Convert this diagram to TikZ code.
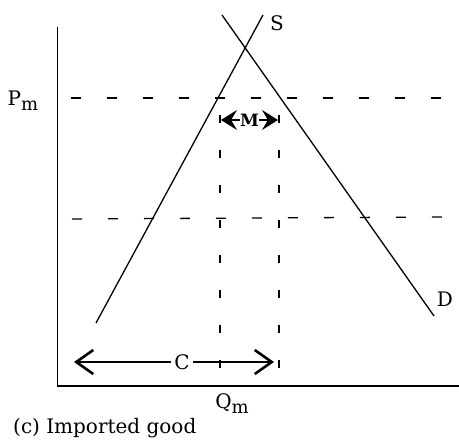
\documentclass[tikz,border=0pt]{standalone}
\usepackage{fontspec}
\setmainfont{DejaVu Serif}
\usetikzlibrary{arrows.meta}
\newcommand{\lowsub}[1]{\raisebox{-5pt}{\fontsize{18}{20}\selectfont #1}}
\begin{document}
\begin{tikzpicture}[x=1pt,y=-1pt,
  curve/.style={line width=1.3pt},
  axis/.style={line width=1.6pt},
  dashline/.style={line width=1.3pt, dash pattern=on 10pt off 26pt},
  vdash/.style={line width=1.3pt, dash pattern=on 8pt off 27pt},
  lbl/.style={font=\fontsize{20}{22}\selectfont, inner sep=1pt},
  marrow/.style={line width=1.2pt, -{Stealth[length=16pt,width=20pt,inset=6pt]}},
  carrow/.style={line width=1.2pt, -{Straight Barb[length=17pt,width=24pt,line width=2.6pt]}}]
\useasboundingbox (0,0) rectangle (459,443);
% axes
\coordinate (ytop) at (57.5,27);
\coordinate (O) at (57.5,386);
\coordinate (xend) at (459,386);
\draw[axis] (ytop) -- (O) -- (xend);
% supply and demand
\coordinate (S1) at (96,323);
\coordinate (S2) at (263,15);
\coordinate (D1) at (222,15);
\coordinate (D2) at (434,316);
\draw[curve] (S1) -- (S2);
\draw[curve] (D1) -- (D2);
\node[lbl] (S) at (277,23) {S};
\node[lbl] (D) at (445,299) {D};
% price lines
\coordinate (h1a) at (71,98);
\coordinate (h1b) at (443,98);
\coordinate (h2a) at (72,219);
\coordinate (h2b) at (443,217);
\draw[dashline] (h1a) -- (h1b);
\draw[dashline] (h2a) -- (h2b);
\node[lbl] (Pm) at (23,101) {P\lowsub{m}};
% vertical dashed lines
\coordinate (v1a) at (220,115);
\coordinate (v1b) at (220,373);
\coordinate (v2a) at (279,115);
\coordinate (v2b) at (279,373);
\draw[vdash] (v1a) -- (v1b);
\draw[vdash] (v2a) -- (v2b);
% M arrow
\node[lbl, inner sep=0pt, font=\fontsize{17}{19}\selectfont\bfseries] (M) at (249.5,120) {M};
\coordinate (ML) at (221,120);
\coordinate (MR) at (278,120);
\draw[marrow] (M.west) -- (ML);
\draw[marrow] (M.east) -- (MR);
% C arrow
\node[lbl, inner sep=3pt] (C) at (182,362) {C};
\coordinate (CL) at (74,362);
\coordinate (CR) at (274,362);
\draw[carrow] (C.west) -- (CL);
\draw[carrow] (C.east) -- (CR);
% labels
\node[lbl] (Qm) at (232,404) {Q\lowsub{m}};
\node[lbl, anchor=base west] (cap) at (12,434) {(c) Imported good};
\end{tikzpicture}
\end{document}
